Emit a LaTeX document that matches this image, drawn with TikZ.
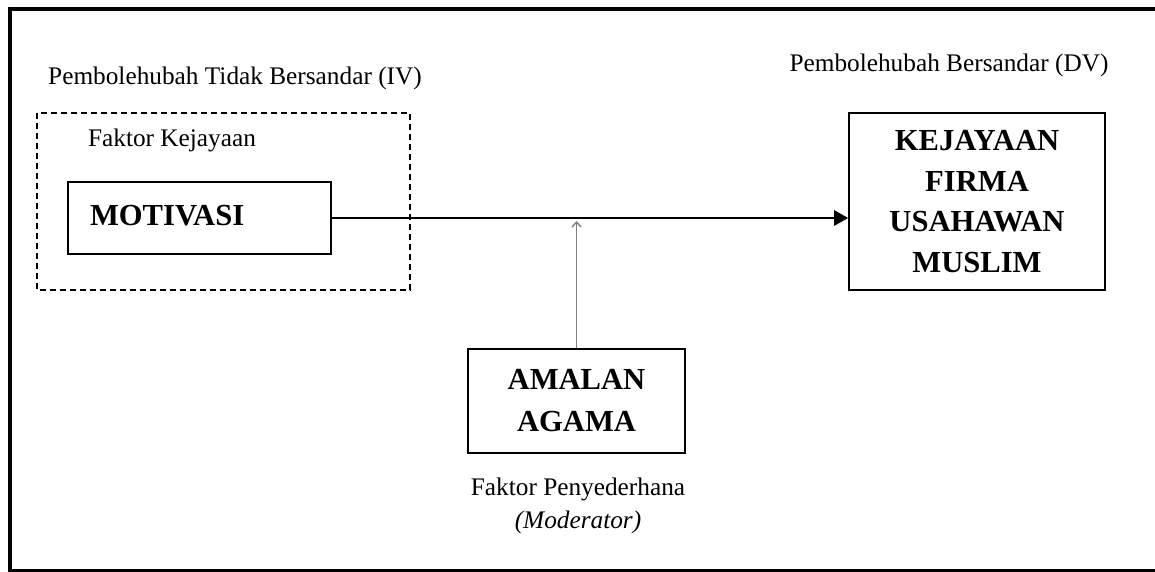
\documentclass[tikz,border=0pt]{standalone}
\usepackage{fontspec}
\setmainfont{Liberation Serif}
\usetikzlibrary{arrows.meta}

\tikzset{
  box/.style={draw, line width=1.6pt, inner sep=0pt},
  lbl/.style={font=\fontsize{25.3}{33}\selectfont, align=center},
  head/.style={font=\fontsize{30.6}{40.5}\selectfont\bfseries, align=center},
}

\begin{document}
\begin{tikzpicture}[x=1pt,y=-1pt]
\useasboundingbox (0,0) rectangle (1155,572);
% frame
\draw[line width=4pt] (1160,9.5) -- (9.5,9.5) -- (9.5,570.5) -- (1160,570.5);

\node[lbl] (iv) at (235,78) {Pembolehubah Tidak Bersandar (IV)};
\node[lbl] (dv) at (949,65) {Pembolehubah Bersandar (DV)};

% faktor kejayaan
\draw[line width=1.2pt, dash pattern=on 6pt off 4pt] (37,113) rectangle (410,290);
\node[lbl] (faktor) at (172,140) {Faktor Kejayaan};
\node[box, head, minimum width=263pt, minimum height=72pt, text width=219pt,
  align=left, inner xsep=22pt] (motivasi) at (199.5,218) {\raisebox{5pt}{MOTIVASI}};

\node[box, head, minimum width=256pt, minimum height=177pt] (kejayaan) at (977,201.5)
  {KEJAYAAN\\FIRMA\\USAHAWAN\\MUSLIM};

% moderator
\node[box, head, minimum width=217pt, minimum height=104pt, font=\fontsize{30.6}{42}\selectfont\bfseries]
  (amalan) at (576.5,401) {AMALAN\\AGAMA};
\node[lbl] (penyederhana) at (578,505.5) {Faktor Penyederhana\\\textit{(Moderator)}};

\draw[line width=2.6pt, -{Triangle[length=14pt,width=15pt]}]
  (motivasi.east) -- (motivasi.east -| kejayaan.west);
\coordinate (m) at (amalan.north |- motivasi.east);
\draw[gray, line width=1.4pt, -{Straight Barb[length=5pt,width=9pt]}]
  (amalan.north) -- ([yshift=-3pt]m);
\end{tikzpicture}
\end{document}
